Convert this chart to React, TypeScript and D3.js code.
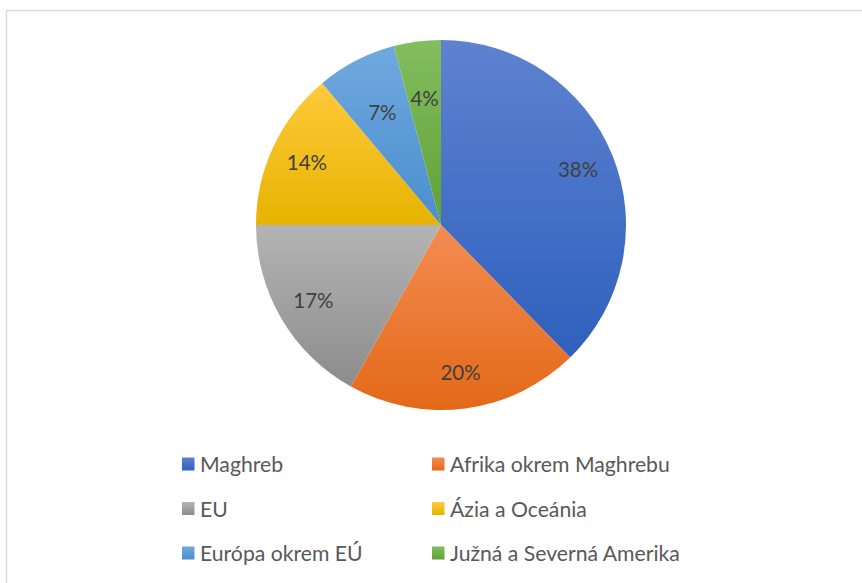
import React from "react";
import * as d3 from "d3";

const categories = [
  "Maghreb",
  "Afrika okrem Maghrebu",
  "EU",
  "Ázia a Oceánia",
  "Európa okrem EÚ",
  "Južná a Severná Amerika",
];
const values = [37.7, 20.4, 16.9, 13.9, 7.0, 4.1];
const topColors = ["#5e82d0", "#f38c52", "#b4b4b4", "#ffca3c", "#70a9de", "#84bd5f"];
const bottomColors = ["#2e60bd", "#e36917", "#8c8c8c", "#e6b300", "#4a8dcf", "#60a137"];

const W = 862;
const H = 583;
const cx = 441;
const cy = 225;
const R = 185;
const FONT = "Lato, 'Liberation Sans', sans-serif";

export default function App() {
  const total = d3.sum(values);
  const pie = d3
    .pie<number>()
    .sort(null)
    .value((d) => d);
  const arcs = pie(values);
  const arc = d3.arc<d3.PieArcDatum<number>>().innerRadius(0).outerRadius(R);

  const legendX = [182, 432];
  const legendY = [472, 516.5, 561];

  return (
    <svg
      width={W}
      height={H}
      style={{ position: "absolute", left: 0, top: 0, display: "block", background: "#fff" }}
    >
      <defs>
        {categories.map((c, i) => (
          <linearGradient key={c} id={`g${i}`} x1="0" y1="0" x2="0" y2="1">
            <stop offset="0" stopColor={topColors[i]} />
            <stop offset="1" stopColor={bottomColors[i]} />
          </linearGradient>
        ))}
      </defs>
      <rect x={6.5} y={10.5} width={W + 10} height={H + 10} fill="#fff" stroke="#d9d9d9" strokeWidth={1.5} />
      <g transform={`translate(${cx},${cy})`}>
        {arcs.map((a, i) => (
          <path key={i} d={arc(a) || ""} fill={`url(#g${i})`} />
        ))}
        {arcs.map((a, i) => {
          const pct = (a.value / total) * 100;
          const f = pct < 10 ? 0.69 : 0.8;
          const lr = R * f;
          const mid = (a.startAngle + a.endAngle) / 2;
          const x = Math.sin(mid) * lr;
          const y = -Math.cos(mid) * lr;
          return (
            <text
              key={`l${i}`}
              x={x}
              y={y}
              textAnchor="middle"
              dominantBaseline="central"
              fontFamily={FONT}
              fontSize={20.5}
              fill="#404040"
            >
              {Math.round(pct)}%
            </text>
          );
        })}
      </g>
      <g>
        {categories.map((c, i) => {
          const col = i % 2;
          const row = Math.floor(i / 2);
          const x = legendX[col];
          const y = legendY[row];
          return (
            <g key={`lg${i}`}>
              <rect x={x} y={y - 14.5} width={12.5} height={13} fill={`url(#g${i})`} />
              <text x={x + 18} y={y} fontFamily={FONT} fontSize={21.2} fill="#595959">
                {c}
              </text>
            </g>
          );
        })}
      </g>
    </svg>
  );
}
